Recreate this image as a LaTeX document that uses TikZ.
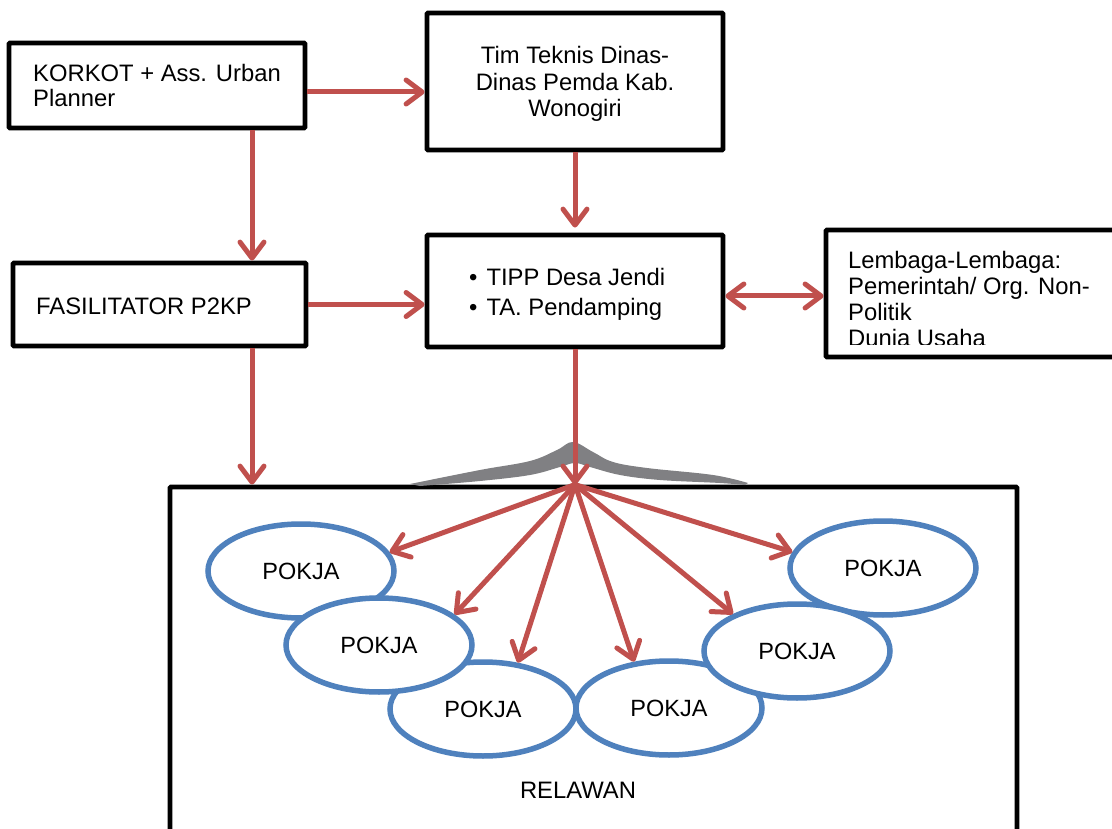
\documentclass[tikz,border=0pt]{standalone}
\usepackage{fontspec}
\setmainfont{Liberation Sans}
\usetikzlibrary{arrows.meta,shapes.geometric}
\definecolor{arrowred}{RGB}{192,80,77}
\definecolor{pokjablue}{RGB}{79,129,189}
\definecolor{blobgray}{RGB}{128,128,131}

\begin{document}
\begin{tikzpicture}[x=1pt,y=-1pt,
  box/.style={draw=black, line width=4.8pt, fill=white, rectangle, inner sep=0pt, rounded corners=1pt},
  txt/.style={inner sep=0pt, font=\fontsize{23.8}{26}\selectfont},
  arr/.style={draw=arrowred, line width=5pt, -{Straight Barb[length=16pt,width=24pt,round]}},
  arrboth/.style={draw=arrowred, line width=5pt, {Straight Barb[length=16pt,width=24pt,round]}-{Straight Barb[length=16pt,width=24pt,round]}},
  pokja/.style={ellipse, draw=pokjablue, line width=5.5pt, fill=white, minimum width=186pt, minimum height=94pt, inner sep=0pt, font=\fontsize{23.5}{26}\selectfont}]

\useasboundingbox (0,0) rectangle (1112,829);

% boxes
\node[box, minimum width=296pt, minimum height=85pt]  (korkot)  at (157,85.5)    {};
\node[box, minimum width=296pt, minimum height=137pt] (tim)     at (575,81.5)    {};
\node[box, minimum width=293pt, minimum height=83pt]  (fasil)   at (159.5,304.5) {};
\node[box, minimum width=296pt, minimum height=112pt] (tipp)    at (575,291)     {};
\node[box, minimum width=304pt, minimum height=127pt] (lem)     at (978,293.5)   {};
\node[box, minimum width=847pt, minimum height=413pt] (relawan) at (593.5,693.5) {};

% box texts
\node[txt, anchor=north west, align=left, font=\fontsize{23.8}{25}\selectfont] (korkot-t) at (33,64.5) {KORKOT + Ass. Urban\\Planner};
\node[txt, anchor=north, align=center, font=\fontsize{23.8}{26.5}\selectfont] (tim-t) at (575,46.5) {Tim Teknis Dinas-\\Dinas Pemda Kab.\\Wonogiri};
\node[txt, anchor=base west] (fasil-t) at (36,314.5) {FASILITATOR P2KP};
\node[txt, anchor=north west, align=left, font=\fontsize{23.8}{30}\selectfont] (tipp-t) at (469,268.5) {\textbullet\hspace{9pt}TIPP Desa Jendi\\\textbullet\hspace{9pt}TA. Pendamping};
\begin{scope}
  \clip (lem.north west) rectangle ([yshift=15pt]lem.south east);
  \node[txt, anchor=north west, align=left] (lem-t) at (848,251.5) {Lembaga-Lembaga:\\Pemerintah/ Org. Non-\\Politik\\Dunia Usaha};
\end{scope}
\node[txt, anchor=base] (relawan-t) at (578,798.5) {RELAWAN};

% working groups
\node[pokja] (e1) at (301,571) {POKJA};
\node[pokja] (e3) at (483,709) {POKJA};
\node[pokja] (e2) at (379,645) {POKJA};
\node[pokja] (e6) at (883,568) {POKJA};
\node[pokja] (e4) at (669,708) {POKJA};
\node[pokja] (e5) at (797,651) {POKJA};

% grey brush stroke on top of the lower frame
\fill[blobgray] plot[smooth, tension=0.6] coordinates {(410,484) (480,470) (530,461) (557,450) (573,442) (593,452) (613,462) (647,468) (713,475) (748,483)}
  -- plot[smooth, tension=0.6] coordinates {(745,485) (720,483) (660,480) (620,475) (590,467) (575,463) (560,467) (530,475) (480,481) (420,486)} -- cycle;

% connectors
\coordinate (fan) at (tipp.south |- relawan.north);
\draw[arr] ([yshift=-6.5pt]korkot.east) -- ([yshift=-6.5pt]korkot.east -| tim.west);
\draw[arr] ([xshift=95pt]korkot.south) -- ([xshift=95pt]korkot.south |- fasil.north);
\draw[arr] (fasil.east) -- (fasil.east -| tipp.west);
\draw[arr, shorten >=5pt] (tim.south) -- (tipp.north);
\draw[arrboth] ([yshift=-5pt]tipp.east) -- ([yshift=-5pt]tipp.east -| lem.west);
\draw[arr] ([xshift=92.5pt]fasil.south) -- ([xshift=92.5pt]fasil.south |- relawan.north);
\draw[arr] (tipp.south) -- (fan);
\foreach \e/\a in {e1/12,e2/22,e3/53,e4/127,e5/150,e6/170}
  \draw[arr] (fan) -- (\e.\a);
\end{tikzpicture}
\end{document}
